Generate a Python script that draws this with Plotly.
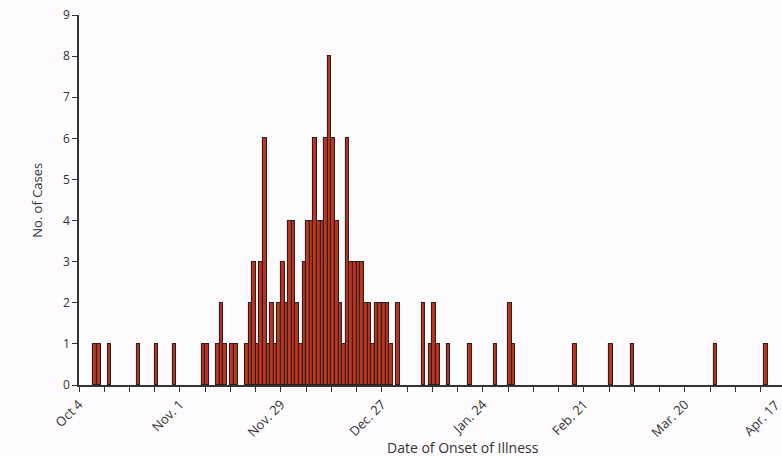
import pandas as pd
import plotly.graph_objects as go

# Daily case counts by date of onset of illness
onset_dates = [
    "2003-10-08", "2003-10-09", "2003-10-12", "2003-10-20", "2003-10-25", "2003-10-30",
    "2003-11-07", "2003-11-08", "2003-11-11", "2003-11-12", "2003-11-13", "2003-11-15",
    "2003-11-16", "2003-11-19", "2003-11-20", "2003-11-21", "2003-11-22", "2003-11-23",
    "2003-11-24", "2003-11-25", "2003-11-26", "2003-11-27", "2003-11-28", "2003-11-29",
    "2003-11-30", "2003-12-01", "2003-12-02", "2003-12-03", "2003-12-04", "2003-12-05",
    "2003-12-06", "2003-12-07", "2003-12-08", "2003-12-09", "2003-12-10", "2003-12-11",
    "2003-12-12", "2003-12-13", "2003-12-14", "2003-12-15", "2003-12-16", "2003-12-17",
    "2003-12-18", "2003-12-19", "2003-12-20", "2003-12-21", "2003-12-22", "2003-12-23",
    "2003-12-24", "2003-12-25", "2003-12-26", "2003-12-27", "2003-12-28", "2003-12-29",
    "2003-12-31", "2004-01-07", "2004-01-09", "2004-01-10", "2004-01-11", "2004-01-14",
    "2004-01-20", "2004-01-27", "2004-01-31", "2004-02-01", "2004-02-18", "2004-02-28",
    "2004-03-05", "2004-03-28", "2004-04-11",
]
case_counts = [
    1, 1, 1, 1, 1, 1,
    1, 1, 1, 2, 1, 1,
    1, 1, 2, 3, 1, 3,
    6, 1, 2, 1, 2, 3,
    2, 4, 4, 2, 1, 3,
    4, 4, 6, 4, 4, 6,
    8, 6, 4, 2, 1, 6,
    3, 3, 3, 3, 2, 2,
    1, 2, 2, 2, 2, 1,
    2, 2, 1, 2, 1, 1,
    1, 1, 2, 1, 1, 1,
    1, 1, 1,
]

# Axis ticks: weekly marks, labelled every four weeks
tick_start = "2003-10-04"
tick_labels = ["Oct 4", "Nov. 1", "Nov. 29", "Dec. 27", "Jan. 24", "Feb. 21", "Mar. 20"]
last_label = "Apr. 17"
y_ticks = list(range(0, 10))

DAY_MS = 86400000
x_start = pd.Timestamp(tick_start)
x_end = x_start + pd.Timedelta(days=194.93)

week_ticks = pd.date_range(tick_start, periods=28, freq="7D")
week_text = []
for i in range(len(week_ticks)):
    week_text.append(tick_labels[i // 4] if i % 4 == 0 else "")

FONT = "'Open Sans', 'Noto Sans', sans-serif"
INK = "#333333"

fig = go.Figure(
    go.Bar(
        x=onset_dates,
        y=case_counts,
        xperiod=DAY_MS,
        xperiodalignment="middle",
        width=DAY_MS,
        marker=dict(color="#c0341e", line=dict(color="#2b2120", width=1.1)),
        hoverinfo="x+y",
    )
)

span_days = (x_end - x_start) / pd.Timedelta(days=1)
last_tick_pos = (pd.Timestamp("2004-04-17") - x_start) / pd.Timedelta(days=1) / span_days

fig.update_layout(
    width=782,
    height=456,
    margin=dict(l=79, r=0, t=15, b=71),
    paper_bgcolor="#fdfbfd",
    plot_bgcolor="#fdfbfd",
    bargap=0,
    showlegend=False,
    font=dict(family=FONT, color=INK, size=12),
    xaxis=dict(
        type="date",
        range=[x_start, x_end],
        tickmode="array",
        tickvals=list(week_ticks),
        ticktext=week_text,
        tickangle=-45,
        ticks="outside",
        ticklen=5,
        tickwidth=1.2,
        tickcolor=INK,
        showline=True,
        linecolor=INK,
        linewidth=1.5,
        showgrid=False,
        zeroline=False,
        tickfont=dict(size=13, family=FONT, color=INK),
    ),
    yaxis=dict(
        range=[0, 9],
        tickmode="array",
        tickvals=y_ticks,
        ticks="outside",
        ticklen=5,
        tickwidth=1.2,
        tickcolor=INK,
        showline=True,
        linecolor=INK,
        linewidth=1.5,
        showgrid=False,
        zeroline=False,
        tickfont=dict(size=12, family=FONT, color=INK),
    ),
    annotations=[
        dict(
            text="Date of Onset of Illness",
            xref="paper", yref="paper",
            x=0.546, y=-0.17,
            xanchor="center", yanchor="middle",
            showarrow=False,
            font=dict(size=14, family=FONT, color=INK),
        ),
        dict(
            text="No. of Cases",
            xref="paper", yref="paper",
            x=-0.06, y=0.5,
            textangle=-90,
            xanchor="center", yanchor="middle",
            showarrow=False,
            font=dict(size=13, family=FONT, color=INK),
        ),
        dict(
            text=last_label,
            xref="paper", yref="paper",
            x=last_tick_pos, y=-0.024,
            textangle=-45,
            xanchor="right", yanchor="top",
            showarrow=False,
            font=dict(size=13, family=FONT, color=INK),
        ),
    ],
)

fig.write_html("out.html")
